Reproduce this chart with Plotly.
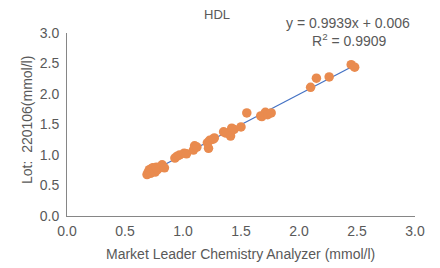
import plotly.graph_objects as go

x_vals = [0.69, 0.70, 0.71, 0.72, 0.73, 0.74, 0.75, 0.76, 0.77, 0.78, 0.80, 0.82, 0.84,
          0.93, 0.95, 0.97, 1.01, 1.03, 1.09, 1.10, 1.12, 1.21, 1.22, 1.23, 1.26, 1.27,
          1.35, 1.37, 1.41, 1.42, 1.44, 1.50, 1.55, 1.67, 1.68, 1.71, 1.73, 1.76,
          2.10, 2.15, 2.26, 2.45, 2.48]
y_vals = [0.68, 0.72, 0.76, 0.70, 0.78, 0.79, 0.74, 0.72, 0.80, 0.76, 0.80, 0.84, 0.79,
          0.95, 0.98, 1.00, 1.03, 1.02, 1.08, 1.15, 1.13, 1.20, 1.11, 1.24, 1.26, 1.28,
          1.38, 1.36, 1.31, 1.44, 1.42, 1.46, 1.69, 1.64, 1.63, 1.70, 1.66, 1.69,
          2.11, 2.26, 2.28, 2.48, 2.44]
slope = 0.9939
intercept = 0.006
ticks = [0.0, 0.5, 1.0, 1.5, 2.0, 2.5, 3.0]

# page has an 8px body margin; compensate so the plot lands where the reference has it
OFF = 8
W, H = 440 - OFF, 268 - OFF
L, R, T, B = 67 - OFF, 25, 33 - OFF, 52
pw, ph = W - L - R, H - T - B


def px(xp):
    return (xp - OFF - L) / pw


def py(yp):
    return (H - B - (yp - OFF)) / ph


xmin, xmax = min(x_vals), max(x_vals)
fig = go.Figure()
fig.add_trace(go.Scatter(x=[xmin, xmax], y=[slope * xmin + intercept, slope * xmax + intercept],
                         mode="lines", line=dict(color="#4472C4", width=1.2), hoverinfo="skip"))
fig.add_trace(go.Scatter(x=x_vals, y=y_vals, mode="markers",
                         marker=dict(color="#E98B4F", size=9.5, line=dict(width=0))))

gray = "#595959"
fam = "Liberation Sans, Arial, sans-serif"
fig.update_layout(
    width=W, height=H,
    margin=dict(l=L, r=R, t=T, b=B),
    paper_bgcolor="white", plot_bgcolor="white",
    showlegend=False, font=dict(family=fam, size=14, color=gray),
    xaxis=dict(range=[0, 3], tickvals=ticks, ticktext=[f"{t:.1f}" for t in ticks],
               showgrid=False, zeroline=False, showline=True, linecolor="#868686", linewidth=1,
               ticks="", automargin=False, ticklabelstandoff=2, tickfont=dict(size=14, color=gray)),
    yaxis=dict(range=[0, 3], tickvals=ticks, ticktext=[f"{t:.1f}" for t in ticks],
               showgrid=False, zeroline=False, showline=True, linecolor="#868686", linewidth=1,
               ticks="", automargin=False, ticklabelstandoff=4, tickfont=dict(size=14, color=gray)),
    annotations=[
        dict(x=px(217), y=py(15), xref="paper", yref="paper",
             text="HDL", showarrow=False, xanchor="center", yanchor="middle",
             font=dict(size=13, color=gray)),
        dict(x=px(348), y=py(23), xref="paper", yref="paper",
             text="y = 0.9939x + 0.006", showarrow=False, xanchor="center", yanchor="middle",
             font=dict(size=14, color=gray)),
        dict(x=px(349), y=py(40), xref="paper", yref="paper",
             text="R<sup>2</sup> = 0.9909", showarrow=False, xanchor="center", yanchor="middle",
             font=dict(size=14, color=gray)),
        dict(x=px(240), y=py(254), xref="paper", yref="paper",
             text="Market Leader Chemistry Analyzer (mmol/l)", showarrow=False,
             xanchor="center", yanchor="middle", font=dict(size=14, color=gray)),
        dict(x=px(27), y=py(120), xref="paper", yref="paper",
             text="Lot:  220106(mmol/l)", showarrow=False, textangle=-90,
             xanchor="center", yanchor="middle", font=dict(size=14, color=gray)),
    ],
)
fig.write_html("out.html")
